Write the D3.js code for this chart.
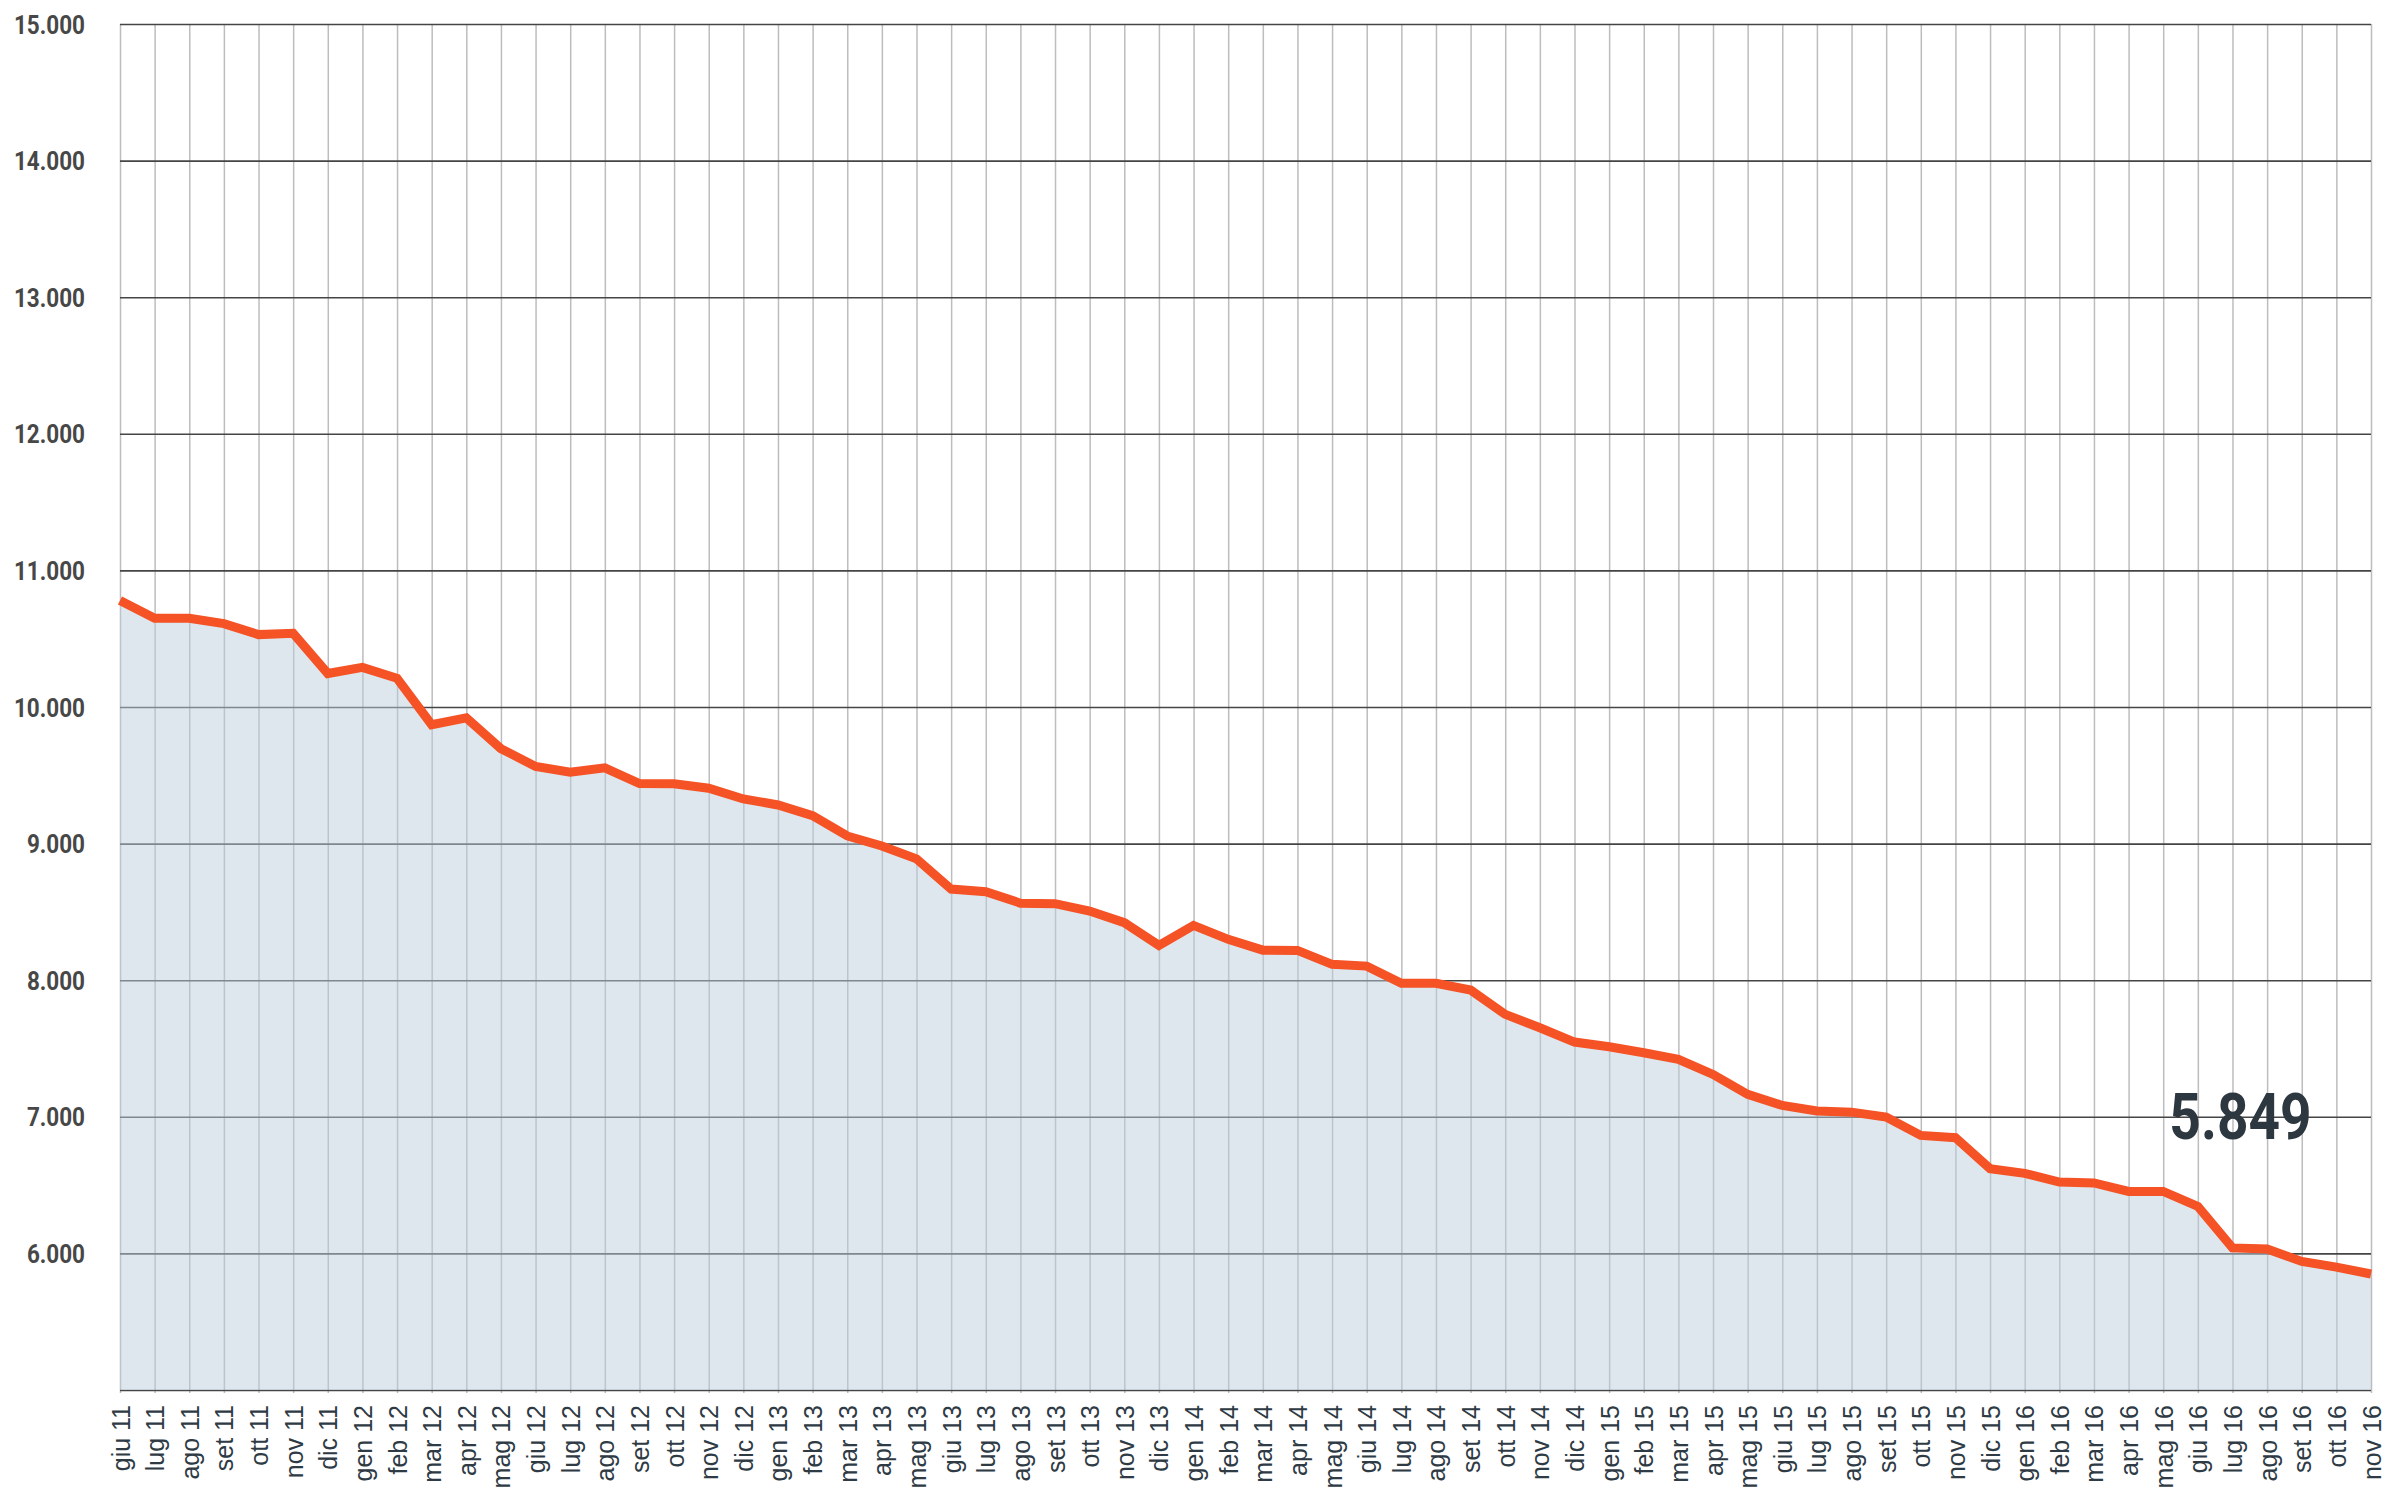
<!DOCTYPE html>
<html>
<head>
<meta charset="utf-8">
<script src="https://cdn.jsdelivr.net/npm/d3@7"></script>
<style>
  html, body { margin: 0; padding: 0; background: #fff; }
  svg { display: block; }
</style>
</head>
<body>
<div id="chart"></div>
<script>
// Month labels on the x-axis
const months = [
  "giu 11", "lug 11", "ago 11", "set 11", "ott 11", "nov 11", "dic 11",
  "gen 12", "feb 12", "mar 12", "apr 12", "mag 12", "giu 12", "lug 12", "ago 12", "set 12", "ott 12", "nov 12", "dic 12",
  "gen 13", "feb 13", "mar 13", "apr 13", "mag 13", "giu 13", "lug 13", "ago 13", "set 13", "ott 13", "nov 13", "dic 13",
  "gen 14", "feb 14", "mar 14", "apr 14", "mag 14", "giu 14", "lug 14", "ago 14", "set 14", "ott 14", "nov 14", "dic 14",
  "gen 15", "feb 15", "mar 15", "apr 15", "mag 15", "giu 15", "lug 15", "ago 15", "set 15", "ott 15", "nov 15", "dic 15",
  "gen 16", "feb 16", "mar 16", "apr 16", "mag 16", "giu 16", "lug 16", "ago 16", "set 16", "ott 16", "nov 16",
];

// Values, one per month
const values = [
  10780, 10650, 10650, 10610, 10530, 10540, 10245,
  10290, 10210, 9870, 9920, 9695, 9565, 9522, 9555, 9440, 9438, 9405, 9327,
  9283, 9205, 9056, 8983, 8888, 8667, 8648, 8564, 8560, 8506, 8421, 8255,
  8401, 8299, 8220, 8218, 8116, 8103, 7977, 7977, 7928, 7750, 7652, 7547,
  7513, 7469, 7420, 7310, 7164, 7083, 7042, 7034, 6998, 6864, 6847, 6620,
  6586, 6522, 6516, 6454, 6454, 6344, 6040, 6032, 5941, 5900, 5849,
];

// Horizontal gridlines and the ones that get a label
const gridValues = [5000, 6000, 7000, 8000, 9000, 10000, 11000, 12000, 13000, 14000, 15000];
const yTickValues = [6000, 7000, 8000, 9000, 10000, 11000, 12000, 13000, 14000, 15000];

// Callout for the last value
const lastLabel = "5.849";

const width = 2387;
const height = 1491;
const margin = { top: 24, right: 16, bottom: 101, left: 120 };

const data = months.map((m, i) => ({ month: m, value: values[i] }));

// Italian style thousands separator
const fmt = (d) => d3.format(",")(d).replace(/,/g, ".");

const svg = d3
  .select("#chart")
  .append("svg")
  .attr("width", width)
  .attr("height", height);

// Scales
const xScale = d3
  .scalePoint()
  .domain(months)
  .range([margin.left, width - margin.right]);

const yScale = d3
  .scaleLinear()
  .domain([5000, 15000])
  .range([height - margin.bottom, margin.top]);

// Vertical gridlines, one per month
svg
  .append("g")
  .attr("class", "x grid")
  .attr("transform", `translate(0, ${height - margin.bottom + 3})`)
  .call(
    d3
      .axisBottom(xScale)
      .tickSize(-(height - margin.bottom - margin.top + 3))
      .tickFormat("")
      .tickSizeOuter(0)
  )
  .call((g) => g.select(".domain").remove())
  .call((g) => g.selectAll("line").attr("stroke", "#bdbdbd").attr("stroke-width", 1.5));

// Horizontal gridlines
svg
  .append("g")
  .attr("class", "y grid")
  .attr("transform", `translate(${margin.left}, 0)`)
  .call(
    d3
      .axisLeft(yScale)
      .tickValues(gridValues)
      .tickSize(-(width - margin.left - margin.right))
      .tickFormat("")
  )
  .call((g) => g.select(".domain").remove())
  .call((g) => g.selectAll("line").attr("stroke", "#454545").attr("stroke-width", 1.6));

// Y-axis labels
svg
  .append("g")
  .attr("class", "y axis")
  .attr("transform", `translate(${margin.left}, 0)`)
  .call(d3.axisLeft(yScale).tickValues(yTickValues).tickSize(0).tickPadding(0).tickFormat(fmt))
  .call((g) => g.select(".domain").remove())
  .selectAll("text")
  .attr("x", 0)
  .attr("dy", "0.36em")
  .attr("fill", "#474747")
  .style("font-family", "Roboto, 'Liberation Sans', sans-serif")
  .style("font-weight", "bold")
  .style("font-size", "25px")
  .attr("transform", (d) => `translate(${-35}, 0) scale(0.9, 1)`);

// X-axis labels, rotated
svg
  .append("g")
  .attr("class", "x axis")
  .attr("transform", `translate(0, ${height - margin.bottom})`)
  .call(d3.axisBottom(xScale).tickSize(0).tickPadding(0))
  .call((g) => g.select(".domain").remove())
  .selectAll("text")
  .attr("x", 0)
  .attr("y", 0)
  .attr("dy", "0.36em")
  .attr("text-anchor", "end")
  .attr("transform", "translate(0, 15) rotate(-90)")
  .attr("fill", "#2e3a44")
  .style("font-family", "'Liberation Sans', Arial, sans-serif")
  .style("font-size", "25px");

// Area under the line, drawn over the gridlines with some transparency
const area = d3
  .area()
  .x((d) => xScale(d.month))
  .y0(yScale(5000))
  .y1((d) => yScale(d.value));

svg
  .append("path")
  .datum(data)
  .attr("d", area)
  .attr("fill", "rgb(189, 206, 220)")
  .attr("fill-opacity", 0.49);

// The line itself
const line = d3
  .line()
  .x((d) => xScale(d.month))
  .y((d) => yScale(d.value));

svg
  .append("path")
  .datum(data)
  .attr("d", line)
  .attr("fill", "none")
  .attr("stroke", "#f55225")
  .attr("stroke-width", 9)
  .attr("stroke-linejoin", "miter");

// Last value callout
const lastX = xScale(months[months.length - 5]);
svg
  .append("text")
  .attr("transform", `translate(${lastX + 8}, ${yScale(6840)}) scale(0.86, 1)`)
  .attr("text-anchor", "middle")
  .attr("fill", "#2d3740")
  .style("font-family", "Roboto, 'Liberation Sans', sans-serif")
  .style("font-weight", "bold")
  .style("font-size", "64px")
  .text(lastLabel);
</script>
</body>
</html>
